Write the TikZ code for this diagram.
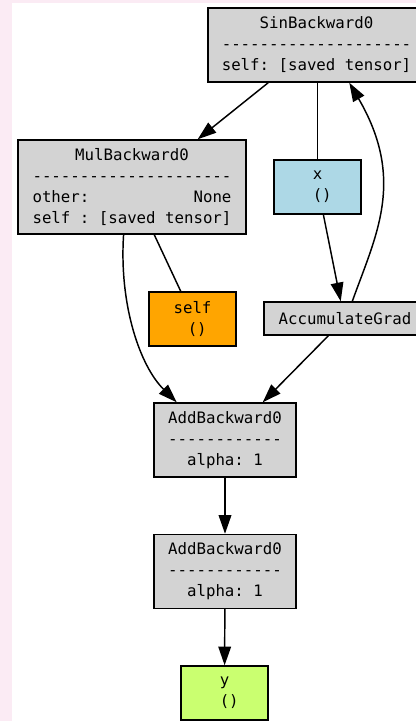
\documentclass[tikz,border=0pt]{standalone}
\usepackage{fontspec}
\setmonofont{DejaVu Sans Mono}
\usetikzlibrary{arrows.meta}

\definecolor{pagepink}{RGB}{251,235,244}
\definecolor{opgray}{HTML}{D3D3D3}
\definecolor{leafblue}{HTML}{ADD8E6}
\definecolor{savedorange}{HTML}{FFA500}
\definecolor{outgreen}{HTML}{CAFF70}

\tikzset{gvbox/.style={draw,line width=1.1pt,font=\ttfamily\fontsize{11.8}{15.75}\selectfont,align=center,inner sep=0pt},
op/.style={gvbox,fill=opgray},
opthree/.style={op,minimum width=106.5pt,minimum height=55.5pt},
leafvar/.style={gvbox,fill=leafblue,minimum width=65.25pt,minimum height=40.5pt},
savedvar/.style={gvbox,fill=savedorange,minimum width=65.25pt,minimum height=40.5pt},
outvar/.style={gvbox,fill=outgreen,minimum width=65.25pt,minimum height=40.5pt},
grad edge/.style={line width=1.1pt,-{Triangle[length=14pt,width=9.5pt]}},
saved edge/.style={line width=1.1pt}}

\begin{document}
\begin{tikzpicture}[x=0.75pt,y=-0.75pt]
%              SinBackward0 <----------+
%               /        \             |
%      MulBackward0       x ----> AccumulateGrad
%        /     \                       |
%       |      self                    |
%        +----> AddBackward0 <---------+
%                    |
%               AddBackward0
%                    |
%                    y

%% page
\useasboundingbox (0,0) rectangle (416,721);
\fill [pagepink] (0,0) rectangle (416,721);
\fill [white] (12,3) rectangle (416,721);

%% Coordinates of nodes.
\coordinate (p-sin) at (316.5,45);
\coordinate (p-mul) at (132,187);
\coordinate (p-x) at (317.5,187);
\coordinate (p-self) at (192.5,319);
\coordinate (p-acc) at (345,318.5);
\coordinate (p-add1) at (225,440);
\coordinate (p-add2) at (225,571.5);
\coordinate (p-y) at (224.5,693);

%% boxes
\node [op,minimum width=162.75pt,minimum height=55.5pt] (sin) at (p-sin)
  {SinBackward0\\--------------------\\self: [saved tensor]};
\node [op,minimum width=171pt,minimum height=70.5pt] (mul) at (p-mul)
  {MulBackward0\\---------------------\\other:~~~~~~~~~~~None\\self : [saved tensor]};
\node [leafvar] (x) at (p-x) {x\\\hphantom{0}()};
\node [savedvar] (self) at (p-self) {self\\\hphantom{0}()};
\node [op,minimum width=121.5pt,minimum height=24.75pt] (acc) at (p-acc) {AccumulateGrad};
\node [opthree] (add1) at (p-add1) {AddBackward0\\------------\\alpha: 1};
\node [opthree] (add2) at (p-add2) {AddBackward0\\------------\\alpha: 1};
\node [outvar] (y) at (p-y) {y\\\hphantom{0}()};

%% saved tensors
\draw [saved edge] (sin.south -| x.north) -- (x.north);
\draw [saved edge] (mul.-65) -- (self.113);

%% gradient edges
\draw [grad edge] (sin.218) -- (mul.36);
\draw [grad edge] (x.-78) -- (acc.104);
\draw [grad edge] (acc.67) .. controls (376,235) and (406,180) .. (sin.-49);
\draw [grad edge] (mul.-100) .. controls (119,305) and (140,366) .. (add1.142);
\draw [grad edge] (acc.-134) -- (add1.45);
\draw [grad edge] (add1) -- (add2);
\draw [grad edge] (add2) -- (y);

\end{tikzpicture}
\end{document}
